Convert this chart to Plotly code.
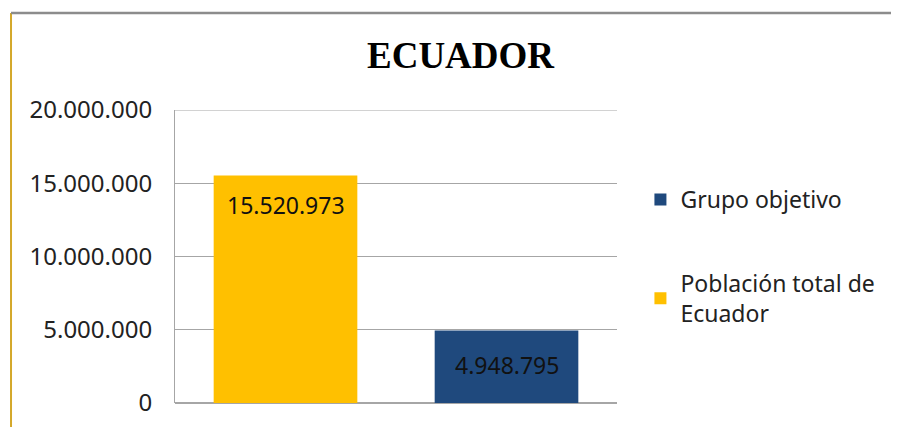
import plotly.graph_objects as go

categorias = ["Población total de Ecuador", "Grupo objetivo"]
nombres_leyenda = ["Población total de<br>Ecuador", "Grupo objetivo"]
valores = [15520973, 4948795]
etiquetas = ["15.520.973", "4.948.795"]
colores = ["#FFC000", "#1F497D"]
ticks_y = [0, 5000000, 10000000, 15000000, 20000000]
ticks_txt = ["0", "5.000.000", "10.000.000", "15.000.000", "20.000.000"]

desplaz = [-11, -16]

fig = go.Figure()
# la leyenda muestra primero el grupo objetivo
for i in [1, 0]:
    fig.add_trace(go.Bar(
        x=[categorias[i]], y=[valores[i]], name=nombres_leyenda[i],
        marker=dict(color=colores[i], line=dict(width=0)),
        width=0.65, legendgroup=str(i),
    ))
    fig.add_annotation(x=categorias[i], y=valores[i], text=etiquetas[i],
                       showarrow=False, yanchor="top", yshift=desplaz[i],
                       font=dict(family="Noto Sans", size=23, color="#111111"))

fig.update_layout(
    width=899, height=427,
    margin=dict(l=167, r=290, t=102, b=32),
    paper_bgcolor="white", plot_bgcolor="white",
    barmode="overlay",
    title=dict(text="<b>ECUADOR</b>", x=0.646, xref="paper", xanchor="center",
               y=0.889, yanchor="middle",
               font=dict(family="Liberation Serif", size=37, color="black")),
    legend=dict(x=1.053, xanchor="left", y=0.50, yanchor="middle",
                traceorder="grouped", tracegroupgap=51,
                font=dict(family="Noto Sans", size=23, color="#222222"),
                itemwidth=30, bgcolor="rgba(0,0,0,0)"),
    showlegend=True,
)
fig.update_xaxes(showticklabels=False, showgrid=False, zeroline=False,
                 showline=False, range=[-0.5, 1.5], automargin=False,
                 categoryorder="array", categoryarray=categorias)
fig.update_yaxes(range=[0, 20000000], tickvals=ticks_y, ticktext=ticks_txt,
                 showgrid=True, gridcolor="#A6A6A6", gridwidth=1,
                 showline=True, linecolor="#A6A6A6", linewidth=1,
                 zeroline=True, zerolinecolor="#A6A6A6",
                 ticklabelstandoff=17, automargin=False,
                 tickfont=dict(family="Noto Sans", size=24, color="#222222"))

# linea superior de la cuadricula
fig.add_shape(type="line", xref="paper", yref="y", x0=0, x1=1,
              y0=20000000, y1=20000000, line=dict(color="#A6A6A6", width=1))
# marco del grafico
fig.add_shape(type="line", xref="paper", yref="paper", x0=-0.371, x1=-0.371,
              y0=-0.2, y1=1.331, line=dict(color="#D4A82A", width=2))
fig.add_shape(type="line", xref="paper", yref="paper", x0=-0.371, x1=1.7,
              y0=1.331, y1=1.331, line=dict(color="#8C8C8C", width=2.5))

fig.write_html("out.html")
